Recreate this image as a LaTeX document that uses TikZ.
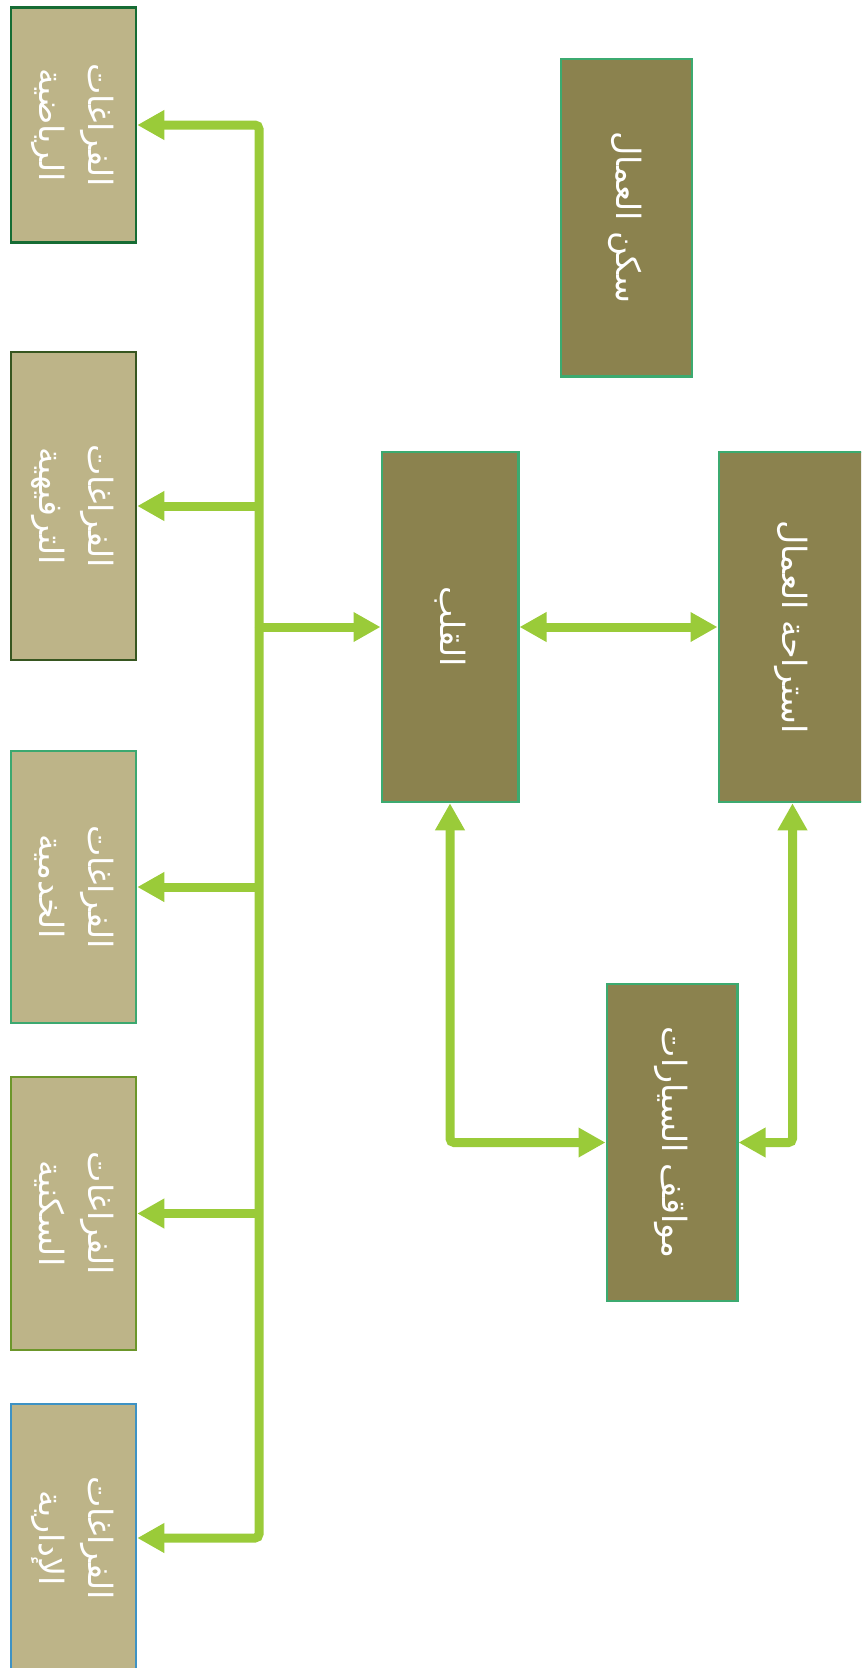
\documentclass[tikz,border=0pt]{standalone}
\usepackage{fontspec}
\usepackage{graphicx}
\usepackage{tikz}
\usetikzlibrary{arrows.meta,positioning,calc}
\newfontfamily\arabicfont[Script=Arabic]{DejaVu Sans}
\TeXXeTstate=1
\definecolor{linkgreen}{RGB}{154,203,57}
\definecolor{boxlight}{RGB}{189,180,136}
\definecolor{boxdark}{RGB}{139,130,78}
\definecolor{sportline}{RGB}{22,108,52}
\definecolor{leisureline}{RGB}{55,86,32}
\definecolor{serviceline}{RGB}{60,168,112}
\definecolor{housingline}{RGB}{108,150,42}
\definecolor{adminline}{RGB}{62,146,196}
\definecolor{coreline}{RGB}{60,170,112}
\newcommand{\artext}[1]{\beginR #1\endR}
\newcommand{\vlabel}[1]{\rotatebox{-90}{\begin{tabular}{@{}c@{}}#1\end{tabular}}}

\begin{document}
\begin{tikzpicture}[
  box/.style={draw, line width=0.05cm, inner sep=0pt, text=white,
              font=\arabicfont\fontsize{19}{28}\selectfont},
  lightbox/.style={box, fill=boxlight, minimum width=2.5cm},
  darkbox/.style={box, fill=boxdark, draw=coreline},
  link/.style={draw=linkgreen, line width=0.18cm,
               -{Triangle[length=0.54cm, width=0.56cm]}},
  twolink/.style={link, {Triangle[length=0.54cm, width=0.56cm]}-{Triangle[length=0.54cm, width=0.56cm]}},
]
\useasboundingbox (0,0) rectangle (17.22,-33.36);
\clip (0,0) rectangle (17.22,-33.36);

% Left column
\node[lightbox, draw=sportline, minimum height=4.70cm] (sport) at (1.47,-2.50)
  {\vlabel{\artext{الفراغات}\\ \artext{الرياضية}}};
\node[lightbox, draw=leisureline, minimum height=6.16cm, below=2.14cm of sport] (leisure)
  {\vlabel{\artext{الفراغات}\\ \artext{الترفيهية}}};
\node[lightbox, draw=serviceline, minimum height=5.44cm, below=1.77cm of leisure] (service)
  {\vlabel{\artext{الفراغات}\\ \artext{الخدمية}}};
\node[lightbox, draw=housingline, minimum height=5.46cm, below=1.03cm of service] (housing)
  {\vlabel{\artext{الفراغات}\\ \artext{السكنية}}};
\node[lightbox, draw=adminline, minimum height=5.36cm, below=1.03cm of housing] (admin)
  {\vlabel{\artext{الفراغات}\\ \artext{الإدارية}}};

% Middle and right
\node[darkbox, minimum width=2.62cm, minimum height=6.35cm] (lodge) at (12.53,-4.35)
  {\vlabel{\artext{سكن العمال}}};
\node[darkbox, minimum width=2.73cm, minimum height=7.0cm] (core) at (9.00,-12.54)
  {\vlabel{\artext{القلب}}};
\node[darkbox, minimum width=2.95cm, minimum height=7.0cm, right=3.96cm of core] (rest)
  {\vlabel{\artext{استراحة العمال}}};
\node[darkbox, minimum width=2.61cm, minimum height=6.34cm] (parking) at (13.44,-22.85)
  {\vlabel{\artext{مواقف السيارات}}};

% Bus
\coordinate (bus) at (5.18,-12.54);
\draw[link, rounded corners=0.08cm] (bus) |- (sport.east);
\draw[link, rounded corners=0.08cm] (bus) |- (admin.east);
\draw[link] (bus |- leisure.east) -- (leisure.east);
\draw[link] (bus |- service.east) -- (service.east);
\draw[link] (bus |- housing.east) -- (housing.east);
\draw[link] (bus) -- (core.west);

% Core links
\draw[twolink] (core.east) -- (rest.west);
\draw[twolink, rounded corners=0.08cm] (core.south) |- (parking.west);
\draw[twolink, rounded corners=0.08cm] (rest.south) |- (parking.east);
\end{tikzpicture}
\end{document}
